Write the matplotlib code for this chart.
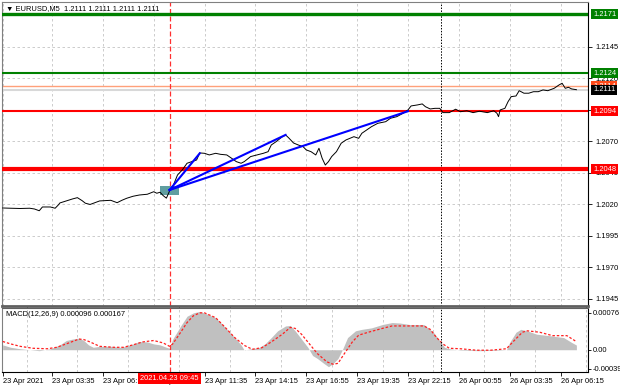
import matplotlib
matplotlib.use("Agg")
import matplotlib.pyplot as plt
import matplotlib.transforms as mtransforms
from matplotlib.patches import Rectangle

plt.rcParams["font.family"] = ["Liberation Sans", "DejaVu Sans"]

# ---- data (x = M5 bar index, bar 0 = 23 Apr 01:00) ----
price_bars = [0, 5, 11, 17, 20, 23, 25, 30, 33, 35,
              36, 40, 44, 47, 50, 52, 55, 61, 68, 72,
              75, 78, 82, 86, 91, 95, 97, 99, 101, 103,
              105, 107, 110, 113, 116, 119, 122, 124, 127, 130,
              134, 137, 141, 144, 147, 150, 152, 156, 160, 164,
              167, 169, 172, 176, 178, 180, 183, 186, 189, 191,
              194, 197, 199, 201, 203, 205, 207, 210, 213, 216,
              221, 224, 226, 229, 232, 236, 241, 244, 248, 252,
              255, 257, 261, 264, 266, 269, 272, 275, 277, 281,
              285, 288, 292, 296, 300, 305, 309, 311, 312, 313,
              316, 318, 320, 323, 325, 328, 331, 334, 337, 340,
              343, 347, 350, 352, 354, 356, 358, 361]
price_vals = [1.20172, 1.20170, 1.20168, 1.20170, 1.20164, 1.20150, 1.20180, 1.20180, 1.20170, 1.20196,
              1.20212, 1.20228, 1.20244, 1.20254, 1.20230, 1.20210, 1.20200, 1.20228, 1.20233, 1.20214,
              1.20233, 1.20249, 1.20265, 1.20275, 1.20281, 1.20301, 1.20289, 1.20297, 1.20270, 1.20250,
              1.20307, 1.20341, 1.20434, 1.20474, 1.20527, 1.20540, 1.20553, 1.20609, 1.20606, 1.20593,
              1.20606, 1.20598, 1.20593, 1.20567, 1.20540, 1.20527, 1.20540, 1.20580, 1.20593, 1.20606,
              1.20619, 1.20672, 1.20698, 1.20738, 1.20752, 1.20728, 1.20688, 1.20672, 1.20659, 1.20633,
              1.20619, 1.20593, 1.20646, 1.20567, 1.20513, 1.20540, 1.20580, 1.20619, 1.20686, 1.20712,
              1.20738, 1.20725, 1.20765, 1.20791, 1.20817, 1.20844, 1.20857, 1.20884, 1.20897, 1.20924,
              1.20950, 1.20982, 1.20990, 1.20998, 1.20976, 1.20958, 1.20963, 1.20963, 1.20929, 1.20929,
              1.20956, 1.20936, 1.20944, 1.20929, 1.20940, 1.20929, 1.20944, 1.20924, 1.20897, 1.20950,
              1.20963, 1.21016, 1.21056, 1.21061, 1.21103, 1.21083, 1.21083, 1.21095, 1.21095, 1.21109,
              1.21103, 1.21122, 1.21148, 1.21162, 1.21122, 1.21130, 1.21117, 1.21111]

macd_bars = [0, 5, 11, 17, 23, 30, 36, 40, 44, 48,
             51, 54, 57, 61, 68, 74, 78, 82, 86, 91,
             95, 99, 103, 105, 107, 112, 116, 120, 124, 129,
             134, 138, 142, 146, 150, 152, 156, 161, 165, 169,
             173, 178, 181, 184, 188, 192, 195, 198, 202, 205,
             208, 211, 214, 217, 222, 226, 232, 239, 245, 250,
             256, 265, 271, 275, 278, 281, 288, 300, 313, 317,
             319, 323, 326, 330, 336, 344, 353, 358, 361]
macd_vals = [0.00010, 0.00005, 0.00002, 0.00000, -0.00002, 0.00002, 0.00010, 0.00019, 0.00022, 0.00024,
             0.00019, 0.00010, 0.00005, 0.00007, 0.00007, 0.00005, 0.00007, 0.00012, 0.00017, 0.00016,
             0.00012, 0.00010, 0.00005, 0.00003, 0.00022, 0.00049, 0.00069, 0.00076, 0.00079, 0.00073,
             0.00066, 0.00053, 0.00039, 0.00025, 0.00010, -0.00001, 0.00002, 0.00004, 0.00012, 0.00025,
             0.00039, 0.00049, 0.00050, 0.00039, 0.00022, 0.00005, -0.00012, -0.00018, -0.00028, -0.00035,
             -0.00028, -0.00018, 0.00002, 0.00025, 0.00039, 0.00042, 0.00045, 0.00052, 0.00056, 0.00055,
             0.00052, 0.00052, 0.00036, 0.00019, 0.00005, 0.00002, -0.00001, -0.00002, -0.00001, 0.00000,
             0.00015, 0.00036, 0.00042, 0.00039, 0.00032, 0.00029, 0.00025, 0.00015, 0.000096]

signal_bars = [0, 5, 11, 19, 28, 34, 40, 48, 51, 55,
               61, 70, 76, 82, 88, 95, 101, 105, 107, 112,
               116, 120, 124, 127, 134, 140, 146, 152, 157, 163,
               169, 176, 181, 184, 188, 193, 198, 204, 208, 211,
               215, 220, 224, 230, 239, 245, 254, 265, 269, 273,
               277, 281, 288, 298, 307, 317, 321, 327, 330, 338,
               346, 355, 361]
signal_vals = [0.00017, 0.00012, 0.00007, 0.00003, 0.00002, 0.00005, 0.00012, 0.00022, 0.00021, 0.00016,
               0.00007, 0.00005, 0.00005, 0.00010, 0.00016, 0.00019, 0.00014, 0.00007, 0.00012, 0.00036,
               0.00056, 0.00070, 0.00076, 0.00076, 0.00066, 0.00046, 0.00025, 0.00009, 0.00001, 0.00004,
               0.00016, 0.00032, 0.00046, 0.00044, 0.00032, 0.00012, -0.00008, -0.00025, -0.00030, -0.00028,
               -0.00008, 0.00016, 0.00030, 0.00036, 0.00044, 0.00049, 0.00049, 0.00049, 0.00042, 0.00025,
               0.00012, 0.00003, 0.00002, -0.00001, -0.00001, 0.00002, 0.00016, 0.00036, 0.00039, 0.00036,
               0.00029, 0.00029, 0.000167]

green_levels = [1.2171, 1.2124]
red_levels = [1.2094, 1.2048]
ask_price = 1.2114
bid_price = 1.2111

entry_bar = 105
entry_price = 1.20315
trend_end_bars = [124, 178, 255]
trend_end_prices = [1.20606, 1.20752, 1.20940]

separator_bar = 276  # 26 Apr 00:00
price_ticks = [1.2145, 1.2120, 1.2095, 1.2070, 1.2045, 1.2020, 1.1995, 1.1970, 1.1945]
macd_ticks = [0.00076, 0.0, -0.00039]
macd_tick_labels = ["0.00076", "0.00", "-0.00039"]
grid_bars = list(range(15, 368, 16))
time_ticks = [0, 31, 63, 95, 127, 159, 191, 223, 255, 287, 319, 351]
time_labels = ["23 Apr 2021", "23 Apr 03:35", "23 Apr 06:15", "23 Apr 08:55",
               "23 Apr 11:35", "23 Apr 14:15", "23 Apr 16:55", "23 Apr 19:35",
               "23 Apr 22:15", "26 Apr 00:55", "26 Apr 03:35", "26 Apr 06:15"]

FS = 5.4
GRID = dict(color="#c4c4c4", linestyle=(0, (3, 3)), linewidth=0.6)

fig = plt.figure(figsize=(6.2, 3.88), dpi=100)
ax = fig.add_axes([2 / 620, 1 - 306 / 388, 586 / 620, 304 / 388])
mx = fig.add_axes([2 / 620, 1 - 372 / 388, 586 / 620, 64 / 388], sharex=ax)

xlim = (-0.44, 368.3)

# ---- price panel ----
ax.set_xlim(*xlim)
ax.set_ylim(1.19394, 1.21807)
ax.set_xticks(grid_bars)
ax.tick_params(axis="x", length=0, labelbottom=False)
ax.yaxis.tick_right()
ax.set_yticks(price_ticks)
ax.set_yticklabels(["%.4f" % v for v in price_ticks])
ax.tick_params(axis="y", labelsize=FS, length=3, pad=2, width=0.6)
ax.grid(True, **GRID)
ax.set_axisbelow(True)

for lv, lw in zip(green_levels, [2.4, 1.5]):
    ax.axhline(lv, color="#008000", lw=lw, zorder=3)
for lv, lw in zip(red_levels, [1.5, 3.0]):
    ax.axhline(lv, color="#ff0000", lw=lw, zorder=3)
ax.axhline(bid_price, color="#d8d8d8", lw=1.5, zorder=2)
ax.axhline(ask_price, color="#ffa07a", lw=1.0, zorder=2)

ax.axvline(entry_bar, color="#ff3030", lw=0.9, linestyle=(0, (4, 2)), zorder=2)
ax.axvline(separator_bar, color="black", lw=0.7, linestyle=(0, (1.5, 1.5)), zorder=2)
mx.axvline(entry_bar, color="#ff3030", lw=0.9, linestyle=(0, (4, 2)), zorder=4)
mx.axvline(separator_bar, color="black", lw=0.7, linestyle=(0, (1.5, 1.5)), zorder=4)

ax.plot(price_bars, price_vals, color="black", lw=0.7, zorder=4)

# entry marker and fan of trend lines
ax.add_patch(Rectangle((entry_bar - 6, entry_price - 0.00037), 12, 0.00072,
                       facecolor="#5f9ea0", edgecolor="none", zorder=3))
for xb, yp in zip(trend_end_bars, trend_end_prices):
    ax.plot([entry_bar, xb], [entry_price, yp], color="#0000ff", lw=1.5, zorder=5)

for sp in ["left", "top"]:
    ax.spines[sp].set_color("#808080")
ax.spines["bottom"].set_color("#606060")
ax.spines["bottom"].set_linewidth(2)
ax.spines["right"].set_linewidth(0.8)

ax.text(0.006, 0.98, "\u25bc EURUSD,M5  1.2111 1.2111 1.2111 1.2111",
        transform=ax.transAxes, fontsize=FS, va="center", ha="left", zorder=6)

# right-side price tags
tr = mtransforms.blended_transform_factory(ax.transAxes, ax.transData)
tags = [(green_levels[0], "#008000"), (green_levels[1], "#008000"),
        (ask_price, "#ff4a1a"), (bid_price, "black"),
        (red_levels[0], "#ff0000"), (red_levels[1], "#ff0000")]
for val, col in tags:
    ax.text(1.0085, val, "%.4f" % val, transform=tr, fontsize=FS, color="white",
            va="center", ha="left", clip_on=False, zorder=10,
            bbox=dict(boxstyle="square,pad=0.2", fc=col, ec="none"))

# ---- MACD panel ----
mx.set_ylim(-0.000459, 0.00086)
mx.fill_between(macd_bars, macd_vals, 0, color="#c0c0c0", lw=0, zorder=2)
mx.plot(signal_bars, signal_vals, color="#ff2020", lw=0.9, linestyle=(0, (2, 1.5)), zorder=3)
mx.set_xticks(grid_bars, minor=True)
mx.set_xticks(time_ticks)
mx.set_xticklabels(time_labels, ha="left")
mx.tick_params(axis="x", which="major", labelsize=FS, length=3, pad=1.5, width=0.6)
mx.tick_params(axis="x", which="minor", length=0)
mx.grid(True, which="minor", axis="x", **GRID)
mx.set_axisbelow(True)
mx.yaxis.tick_right()
mx.set_yticks(macd_ticks)
mx.set_yticklabels(macd_tick_labels)
mx.tick_params(axis="y", labelsize=FS, length=2, pad=1.5, width=0.6)
mx.spines["left"].set_color("#808080")
mx.spines["top"].set_color("#606060")
mx.spines["right"].set_linewidth(0.8)
mx.text(0.007, 0.9, "MACD(12,26,9) 0.000096 0.000167", transform=mx.transAxes,
        fontsize=FS, va="center", ha="left")

# crosshair time tag
trx = mtransforms.blended_transform_factory(mx.transData, mx.transAxes)
mx.text(entry_bar, -0.1, "2021.04.23 09:45", transform=trx, fontsize=FS, color="white",
        ha="center", va="center", clip_on=False, zorder=10,
        bbox=dict(boxstyle="square,pad=0.3", fc="#ff0000", ec="none"))

fig.savefig("out.png", dpi=100)
